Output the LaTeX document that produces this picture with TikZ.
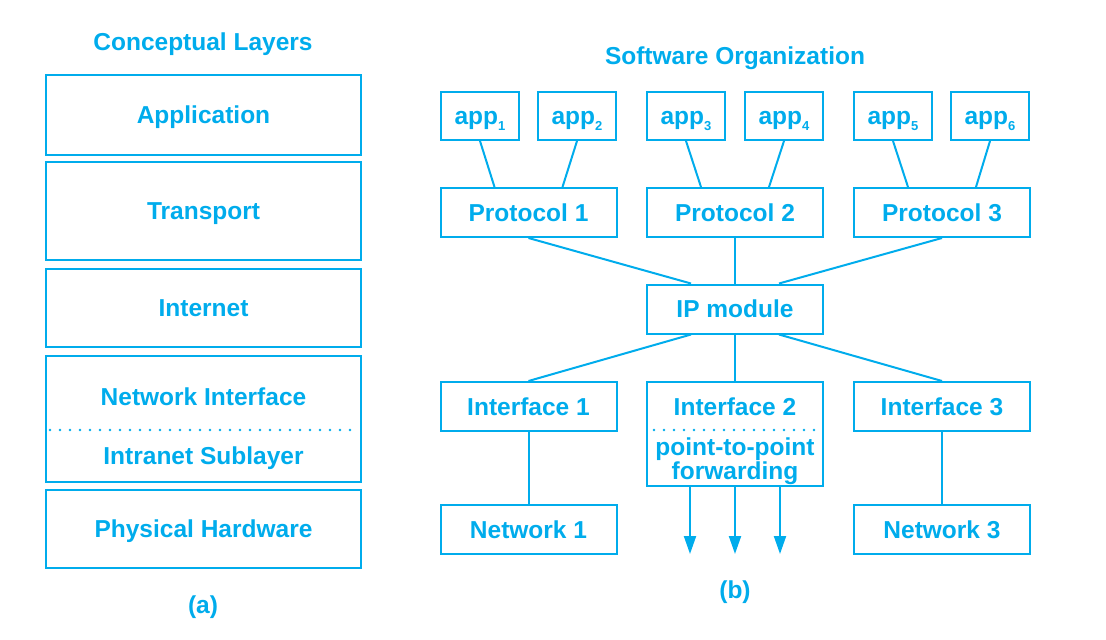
\documentclass[tikz,border=0pt]{standalone}
\usepackage{fontspec}
\setmainfont{Liberation Sans}
\usetikzlibrary{arrows.meta,positioning}
\definecolor{netblue}{RGB}{0,172,236}
\newcommand{\sub}[1]{\raisebox{-0.22em}{\fontsize{13}{13}\selectfont #1}}

\begin{document}
\begin{tikzpicture}[x=1pt,y=-1pt,>={Triangle[length=18pt,width=12pt]},
    color=netblue,line width=2pt,font=\fontsize{24.5}{22}\selectfont\bfseries,
    every node/.style={text height=17.5pt,text depth=0pt},
    layer/.style={draw,minimum width=315pt,minimum height=#1,inner sep=0pt},
    box/.style={draw,minimum width=176pt,minimum height=49pt,inner sep=0pt},
    appbox/.style={draw,minimum width=78pt,minimum height=48pt,inner sep=0pt},
    dots/.style={line cap=round,dash pattern=on 0pt off 10pt,line width=2.8pt}]

  \useasboundingbox (0,0) rectangle (1106,640);

  % (a) conceptual layers
  \node (titlea) at (203,42) {Conceptual Layers};
  \node[layer=80pt] (application) at (203.5,115) {Application};
  \node[layer=98pt] (transport) at (203.5,211) {Transport};
  \node[layer=78pt] (internet) at (203.5,308) {Internet};
  \node[layer=126pt] (netif) at (203.5,419) {};
  \node (netiftext) at (203.5,397) {Network Interface};
  \node (intranet) at (203.5,456) {Intranet Sublayer};
  \draw[dots] ([xshift=5pt,yshift=-11pt]netif.west) -- ([xshift=-5pt,yshift=-11pt]netif.east);
  \node[layer=78pt] (physical) at (203.5,529) {Physical Hardware};
  \node (labela) at (203,605) {(a)};

  % (b) software organization
  \node (titleb) at (735,56) {Software Organization};
  \foreach \i/\x in {1/480,2/577,3/686,4/784,5/893,6/990}
    \node[appbox] (app\i) at (\x,116) {app\sub{\i}};
  \foreach \i/\x in {1/528.5,2/735,3/942}
    \node[box] (proto\i) at (\x,212.5) {Protocol \i};
  \node[box] (ip) at (735,309) {IP module};
  \node[box] (if1) at (528.5,406.5) {Interface 1};
  \node[box,minimum height=104pt] (if2) at (735,434) {};
  \node (if2text) at (735,407) {Interface 2};
  \node[align=center,text height=,text depth=] (ptp) at (735,461) {point-to-point\\forwarding};
  \draw[dots] ([xshift=8pt,yshift=4pt]if2.west) -- ([xshift=-8pt,yshift=4pt]if2.east);
  \node[box] (if3) at (942,406.5) {Interface 3};
  \node[box] (net1) at (528.5,529.5) {Network 1};
  \node[box] (net3) at (942,529.5) {Network 3};
  \node (labelb) at (735,590) {(b)};

  \foreach \a/\p/\s in {1/1/-34pt,2/1/34pt,3/2/-34pt,4/2/34pt,5/3/-34pt,6/3/34pt}
    \draw (app\a.south) -- ([xshift=\s]proto\p.north);
  \draw (proto1.south) -- ([xshift=-44pt]ip.north);
  \draw (proto2.south) -- (ip.north);
  \draw (proto3.south) -- ([xshift=44pt]ip.north);
  \draw ([xshift=-44pt]ip.south) -- (if1.north);
  \draw (ip.south) -- (if2.north);
  \draw ([xshift=44pt]ip.south) -- (if3.north);
  \draw (if1.south) -- (net1.north);
  \draw (if3.south) -- (net3.north);
  \foreach \i/\x in {1/690,2/735,3/780}{
    \coordinate (out\i) at (\x,554);
    \draw[->] (if2.south -| out\i) -- (out\i);
  }

\end{tikzpicture}
\end{document}
